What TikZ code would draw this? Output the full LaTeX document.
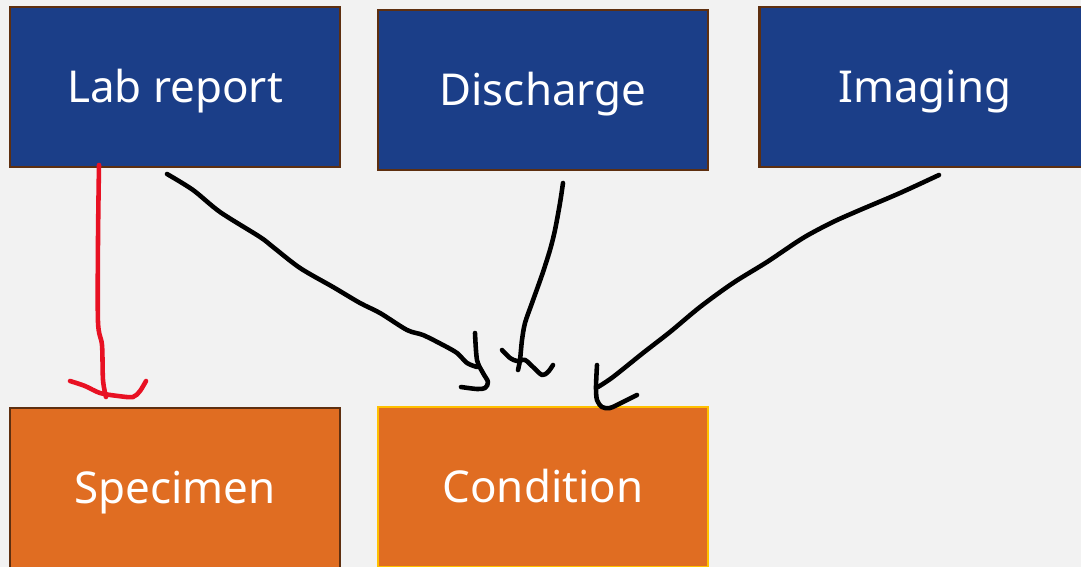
\documentclass[tikz,border=0pt]{standalone}
\usepackage{fontspec}
\setmainfont{Noto Sans}
\usepackage{tikz}
\usetikzlibrary{positioning}
\definecolor{pagegray}{HTML}{F2F2F2}
\definecolor{boxblue}{HTML}{1B3E88}
\definecolor{boxorange}{HTML}{E06D22}
\definecolor{boxbrown}{HTML}{5E2F10}
\definecolor{boxgold}{HTML}{FFC000}
\definecolor{penred}{HTML}{E81123}
\tikzset{
  srcblock/.style = {draw=boxbrown, fill=boxblue, rectangle, line width=1.6pt,
                     outer sep=0pt, minimum width=6.6cm, minimum height=3.2cm,
                     text height=17.8pt, text depth=0pt, text=white,
                     font=\fontsize{25}{30}\selectfont},
  dstblock/.style = {srcblock, fill=boxorange},
  pen/.style = {line width=2.6pt, line cap=round, line join=round},
  redpen/.style = {pen, draw=penred}
}

\begin{document}
\begin{tikzpicture}[x=0.02cm, y=-0.02cm, node distance=0.76cm]

    \useasboundingbox[fill=pagegray] (0,0) rectangle (1081,567);
    \clip (0,0) rectangle (1081,567);

    % Place the nodes
    \node [srcblock] (labreport) at (175,87) {Lab report};
    \node [srcblock, right=of labreport, yshift=-0.06cm] (discharge) {Discharge};
    \node [srcblock, right=1.04cm of discharge, yshift=0.06cm] (imaging) {Imaging};
    \node [dstblock, below=4.82cm of labreport] (specimen) {Specimen};
    \node [dstblock, draw=boxgold, right=of specimen, yshift=0.02cm] (condition) {Condition};

    % Free ends of the hand drawn strokes
    \coordinate (lr-red) at (99,165);
    \coordinate (sp-tip) at (106,397);
    \coordinate (lr-out) at (167,174);
    \coordinate (dc-out) at (563,183);
    \coordinate (im-out) at (939,175);
    \coordinate (cd-tip1) at (477,367);
    \coordinate (cd-tip2) at (518,370);
    \coordinate (cd-tip3) at (598,387);

    % Red stroke: lab report down to specimen
    \draw [redpen] plot[smooth] coordinates {(lr-red) (98,240) (98,322) (102,345) (103,380) (sp-tip)};
    \draw [redpen] plot[smooth] coordinates {(70,381) (85,386) (100,393) (118,396) (133,397) (140,391) (146,381)};

    % Black strokes into condition
    \draw [pen] plot[smooth] coordinates {(lr-out) (193,190) (220,212) (260,237) (273,247) (300,268)
        (333,287) (360,303) (380,313) (407,330) (423,335) (443,345) (457,353) (467,363) (cd-tip1)};
    \draw [pen] plot[smooth] coordinates {(475,333) (477,360) (483,373) (488,382) (485,388) (477,389) (461,387)};

    \draw [pen] plot[smooth] coordinates {(dc-out) (560,203) (555,230) (550,250) (542,275) (532,303)
        (525,323) (522,340) (520,360) (cd-tip2)};
    \draw [pen] plot[smooth] coordinates {(502,350) (510,358) (517,361) (525,360) (533,367) (542,375) (548,372) (553,365)};

    \draw [pen] plot[smooth] coordinates {(im-out) (900,193) (860,210) (833,222) (803,238) (767,262)
        (733,283) (700,307) (670,332) (643,353) (613,377) (cd-tip3)};
    \draw [pen] plot[smooth] coordinates {(597,365) (596,387) (597,400) (602,407) (610,408) (623,402) (637,395)};

\end{tikzpicture}
\end{document}
